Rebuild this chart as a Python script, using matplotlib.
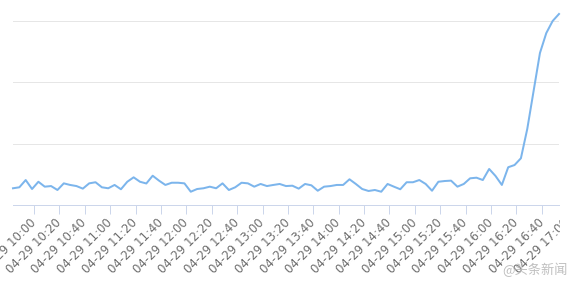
"""
Trend line for 04-29, 10:00-17:00, recreated in the style of a Highcharts category chart.
"""
import matplotlib
matplotlib.use("Agg")
import matplotlib.pyplot as plt
import matplotlib.transforms as mtransforms

# values per 5-minute category (y axis labels are cropped out of the original)
VALUES = [
    13.6, 14.4, 20.3, 13.0, 18.9, 14.9, 15.4, 12.2, 17.6, 16.3,
    15.4, 13.3, 17.6, 18.5, 14.4, 13.6, 16.3, 12.8, 18.9, 22.5,
    18.9, 17.5, 23.8, 19.8, 16.3, 18.1, 18.1, 17.6, 10.8, 13.0,
    13.6, 14.9, 13.6, 17.6, 12.2, 14.4, 18.1, 17.6, 14.9, 17.1,
    15.4, 16.3, 17.1, 15.4, 15.7, 13.3, 17.1, 16.0, 11.6, 14.9,
    15.4, 16.3, 16.3, 20.9, 17.1, 13.0, 11.4, 12.2, 10.8, 17.1,
    14.9, 12.8, 18.5, 18.5, 20.3, 17.1, 11.6, 18.9, 19.5, 19.8,
    14.9, 17.1, 21.7, 22.2, 20.3, 29.3, 23.6, 16.3, 30.7, 32.5,
    38.0, 61.8, 92.7, 123.6, 139.8, 149.6, 155.3,
]
TICK_LABELS = [
    "04-29 10:00", "04-29 10:20", "04-29 10:40", "04-29 11:00", "04-29 11:20",
    "04-29 11:40", "04-29 12:00", "04-29 12:20", "04-29 12:40", "04-29 13:00",
    "04-29 13:20", "04-29 13:40", "04-29 14:00", "04-29 14:20", "04-29 14:40",
    "04-29 15:00", "04-29 15:20", "04-29 15:40", "04-29 16:00", "04-29 16:20",
    "04-29 16:40", "04-29 17:00",
]
Y_GRID = [0, 50, 100, 150, 200]
WATERMARK = "@头条新闻"

FIRST_TICK = 3.3
TICK_STEP = 4
LINE_COLOR = "#7cb5ec"
GRID_COLOR = "#e6e6e6"
AXIS_COLOR = "#ccd6eb"
LABEL_COLOR = "#6e6e6e"
LABEL_SIZE = 8.5
PX = 72 / 100  # points per pixel at dpi 100
CHART_RIGHT_PX = 560  # the chart container ends here, the rest of the screenshot is blank


def main():
    fig = plt.figure(figsize=(5.79, 2.84), dpi=100)
    ax = fig.add_axes([13 / 579, 79 / 284, 546 / 579, 246 / 284])

    xs = list(range(len(VALUES)))
    ax.plot(xs, VALUES, color=LINE_COLOR, linewidth=2 * PX, solid_joinstyle="round",
            clip_on=False, zorder=3)

    x_max = len(VALUES) - 1
    ax.set_xlim(0, x_max)
    ax.set_ylim(Y_GRID[0], Y_GRID[-1])

    ax.set_yticks(Y_GRID)
    ax.yaxis.grid(True, color=GRID_COLOR, linewidth=1 * PX)
    ax.tick_params(axis="y", left=False, labelleft=False)

    tick_pos = [FIRST_TICK + TICK_STEP * k for k in range(len(TICK_LABELS))]
    visible = [(p, t) for p, t in zip(tick_pos, TICK_LABELS) if p <= x_max]
    hidden = [(p, t) for p, t in zip(tick_pos, TICK_LABELS) if p > x_max]

    label_pad = 7
    ax.set_xticks([p for p, _ in visible])
    ax.set_xticklabels([t for _, t in visible], rotation=45, ha="right", va="center",
                       rotation_mode="anchor", color=LABEL_COLOR, fontsize=LABEL_SIZE)
    ax.tick_params(axis="x", length=9 * PX, width=1 * PX, color=AXIS_COLOR,
                   pad=label_pad * PX)

    # the last label sits past the plot's right edge and is cut by the chart container
    clip = mtransforms.Bbox.from_extents(0, 0, CHART_RIGHT_PX, 284)
    offset = mtransforms.offset_copy(ax.transData, fig=fig, x=0,
                                     y=-(9 + label_pad) * PX, units="points")
    for p, t in hidden:
        txt = ax.text(p, 0, t, transform=offset, rotation=45, ha="right", va="center",
                      rotation_mode="anchor", color=LABEL_COLOR, fontsize=LABEL_SIZE)
        txt.set_clip_on(True)
        txt.set_clip_box(clip)

    for side in ("left", "right", "top"):
        ax.spines[side].set_visible(False)
    ax.spines["bottom"].set_color(AXIS_COLOR)
    ax.spines["bottom"].set_linewidth(1 * PX)

    fig.text(568 / 579, 1 - 270 / 284, WATERMARK, ha="right", va="center", fontsize=9.5,
             color="#b8b8b8", alpha=0.9, family=["Noto Sans CJK SC", "DejaVu Sans"])

    fig.savefig("out.png", dpi=100, facecolor="white")


if __name__ == "__main__":
    main()
